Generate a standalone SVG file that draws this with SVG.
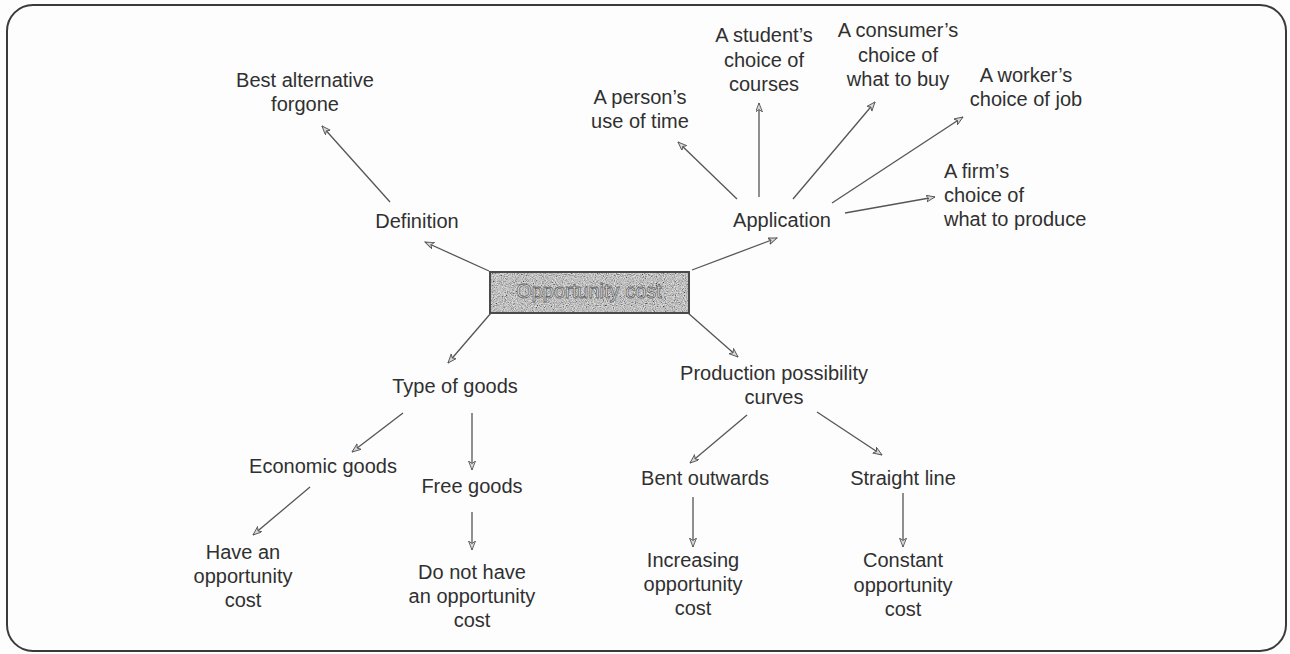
<svg xmlns="http://www.w3.org/2000/svg" width="1290" height="654" viewBox="0 0 1290 654">
  <style>
    .lbl { font-family: "Liberation Sans", Arial, Helvetica, sans-serif; font-size: 20px; fill: #303030; text-anchor: middle; }
    .left { text-anchor: start; }
    .edge { stroke: #555; stroke-width: 1.3; fill: none; marker-end: url(#arrow); }
    .core { font-family: "Liberation Sans", Arial, Helvetica, sans-serif; font-size: 20px; fill: #f0f0f0; stroke: #666; stroke-width: 0.8; text-anchor: middle; }
  </style>
  <defs>
    <marker id="arrow" markerUnits="userSpaceOnUse" markerWidth="12" markerHeight="10" refX="9" refY="3.5" orient="auto">
      <path d="M0,0 L9,3.5 L0,7 L2.5,3.5 z" fill="#d8d8d8" stroke="#555" stroke-width="0.9" stroke-linejoin="miter"/>
    </marker>
    <!-- fine speckle used for the shaded concept box -->
    <filter id="grain" x="0" y="0" width="100%" height="100%">
      <feTurbulence type="fractalNoise" baseFrequency="0.9" numOctaves="2" seed="7" result="n"/>
      <feColorMatrix in="n" type="matrix" values="1.8 0 0 0 -0.35  1.8 0 0 0 -0.35  1.8 0 0 0 -0.35  0 0 0 0 0.6"/>
    </filter>
    <clipPath id="coreClip">
      <rect x="490" y="272" width="199" height="41"/>
    </clipPath>
  </defs>

  <!-- page and frame -->
  <rect x="0" y="0" width="1290" height="654" fill="#fdfdfd"/>
  <rect x="7" y="5" width="1279" height="646" rx="26" ry="26" fill="none" stroke="#3a3a3a" stroke-width="2"/>

  <!-- connectors -->
  <g id="connectors">
    <line class="edge" x1="489" y1="271" x2="425" y2="242"/>
    <line class="edge" x1="692" y1="270" x2="777" y2="238"/>
    <line class="edge" x1="390" y1="202" x2="322" y2="126"/>
    <line class="edge" x1="737" y1="199" x2="678" y2="142"/>
    <line class="edge" x1="759" y1="197" x2="759" y2="103"/>
    <line class="edge" x1="793" y1="199" x2="875" y2="102"/>
    <line class="edge" x1="832" y1="203" x2="963" y2="117"/>
    <line class="edge" x1="845" y1="213" x2="935" y2="197"/>
    <line class="edge" x1="491" y1="313" x2="448" y2="363"/>
    <line class="edge" x1="688" y1="313" x2="738" y2="357"/>
    <line class="edge" x1="403" y1="413" x2="352" y2="452"/>
    <line class="edge" x1="472" y1="413" x2="472" y2="470"/>
    <line class="edge" x1="310" y1="487" x2="253" y2="535"/>
    <line class="edge" x1="472" y1="512" x2="472" y2="550"/>
    <line class="edge" x1="747" y1="415" x2="690" y2="463"/>
    <line class="edge" x1="817" y1="412" x2="882" y2="455"/>
    <line class="edge" x1="693" y1="497" x2="693" y2="547"/>
    <line class="edge" x1="903" y1="493" x2="903" y2="547"/>
  </g>

  <!-- central concept -->
  <g id="opportunity-cost">
    <rect x="490" y="272" width="199" height="41" fill="#b4b4b4"/>
    <rect x="490" y="272" width="199" height="41" filter="url(#grain)" clip-path="url(#coreClip)"/>
    <rect x="490" y="272" width="199" height="41" fill="none" stroke="#4a4a4a" stroke-width="2"/>
    <text class="core" x="589" y="298">Opportunity cost</text>
  </g>

  <g id="definition"><text class="lbl" x="417" y="228">Definition</text></g>
  <g id="best-alternative">
    <text class="lbl" x="305" y="87">Best alternative</text>
    <text class="lbl" x="305" y="111">forgone</text>
  </g>

  <g id="application"><text class="lbl" x="782" y="227">Application</text></g>
  <g id="person-time">
    <text class="lbl" x="640" y="104">A person’s</text>
    <text class="lbl" x="640" y="128">use of time</text>
  </g>
  <g id="student-courses">
    <text class="lbl" x="764" y="42">A student’s</text>
    <text class="lbl" x="764" y="67">choice of</text>
    <text class="lbl" x="764" y="91">courses</text>
  </g>
  <g id="consumer-buy">
    <text class="lbl" x="898" y="37">A consumer’s</text>
    <text class="lbl" x="898" y="62">choice of</text>
    <text class="lbl" x="898" y="86">what to buy</text>
  </g>
  <g id="worker-job">
    <text class="lbl" x="1026" y="82">A worker’s</text>
    <text class="lbl" x="1026" y="106">choice of job</text>
  </g>
  <g id="firm-produce">
    <text class="lbl left" x="944" y="178">A firm’s</text>
    <text class="lbl left" x="944" y="202">choice of</text>
    <text class="lbl left" x="944" y="226">what to produce</text>
  </g>

  <g id="type-of-goods"><text class="lbl" x="455" y="393">Type of goods</text></g>
  <g id="economic-goods"><text class="lbl" x="323" y="473">Economic goods</text></g>
  <g id="free-goods"><text class="lbl" x="472" y="493">Free goods</text></g>
  <g id="have-cost">
    <text class="lbl" x="243" y="559">Have an</text>
    <text class="lbl" x="243" y="583">opportunity</text>
    <text class="lbl" x="243" y="607">cost</text>
  </g>
  <g id="no-cost">
    <text class="lbl" x="472" y="579">Do not have</text>
    <text class="lbl" x="472" y="603">an opportunity</text>
    <text class="lbl" x="472" y="627">cost</text>
  </g>

  <g id="ppc">
    <text class="lbl" x="774" y="380">Production possibility</text>
    <text class="lbl" x="774" y="404">curves</text>
  </g>
  <g id="bent-outwards"><text class="lbl" x="705" y="485">Bent outwards</text></g>
  <g id="straight-line"><text class="lbl" x="903" y="485">Straight line</text></g>
  <g id="increasing-cost">
    <text class="lbl" x="693" y="567">Increasing</text>
    <text class="lbl" x="693" y="591">opportunity</text>
    <text class="lbl" x="693" y="615">cost</text>
  </g>
  <g id="constant-cost">
    <text class="lbl" x="903" y="567">Constant</text>
    <text class="lbl" x="903" y="592">opportunity</text>
    <text class="lbl" x="903" y="616">cost</text>
  </g>
</svg>
